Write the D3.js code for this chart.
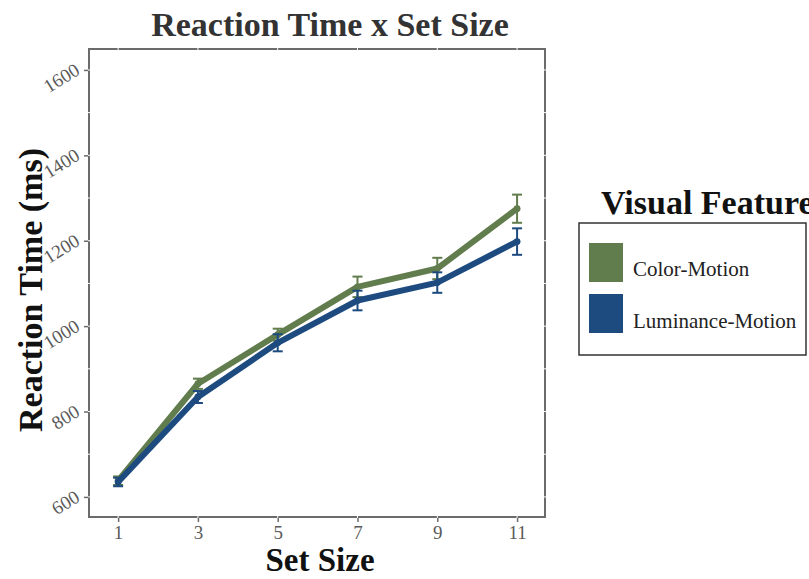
<!DOCTYPE html>
<html>
<head>
<meta charset="utf-8">
<script src="https://cdn.jsdelivr.net/npm/d3@7"></script>
<style>
  body { margin: 0; background: #fff; }
  text { font-family: "Liberation Serif", "Times New Roman", serif; }
</style>
</head>
<body>
<svg id="chart" width="809" height="579"></svg>
<script>
// data
var setSizes = [1, 3, 5, 7, 9, 11];
var colorMotion = [638, 865, 980, 1092, 1135, 1275];
var colorMotionErr = [10, 12, 14, 24, 25, 33];
var lumMotion = [635, 834, 961, 1060, 1102, 1198];
var lumMotionErr = [10, 14, 20, 23, 24, 31];
var yTicks = [600, 800, 1000, 1200, 1400, 1600];
var yMinor = [700, 900, 1100, 1300, 1500];
var seriesNames = ["Color-Motion", "Luminance-Motion"];
var seriesColors = ["#617c4d", "#1d4b80"];

var svg = d3.select("svg#chart");

var pLeft = 89, pRight = 545, pTop = 49, pBottom = 517;

var x = d3.scaleLinear().domain([0.27, 11.7]).range([pLeft, pRight]);
var y = d3.scaleLinear().domain([553, 1649]).range([pBottom, pTop]);

// title
svg.append("text")
  .attr("x", 330).attr("y", 36)
  .attr("text-anchor", "middle")
  .attr("font-size", 34).attr("font-weight", "bold")
  .attr("fill", "#333")
  .text("Reaction Time x Set Size");

// panel border
svg.append("rect")
  .attr("x", pLeft).attr("y", pTop)
  .attr("width", pRight - pLeft).attr("height", pBottom - pTop)
  .attr("fill", "none").attr("stroke", "#6b6b6b").attr("stroke-width", 2);

// white grid (only shows where it crosses the border)
var grid = svg.append("g").attr("stroke", "#fff").attr("stroke-width", 1);
grid.selectAll("line.gy")
  .data(yTicks.concat(yMinor)).enter().append("line")
  .attr("x1", pLeft - 1).attr("x2", pRight + 1)
  .attr("y1", function(d) { return y(d); }).attr("y2", function(d) { return y(d); });
grid.selectAll("line.gx")
  .data(setSizes).enter().append("line")
  .attr("y1", pTop - 1).attr("y2", pBottom + 1)
  .attr("x1", function(d) { return x(d); }).attr("x2", function(d) { return x(d); });

// axes
var xAxis = svg.append("g")
  .attr("transform", "translate(0," + (pBottom + 1) + ")")
  .call(d3.axisBottom(x).tickValues(setSizes).tickFormat(d3.format("d")).tickSize(4).tickPadding(4));
var yAxis = svg.append("g")
  .attr("transform", "translate(" + (pLeft - 1) + ",0)")
  .call(d3.axisLeft(y).tickValues(yTicks).tickFormat(d3.format("d")).tickSize(4).tickPadding(6));

[xAxis, yAxis].forEach(function(a) {
  a.select(".domain").remove();
  a.selectAll(".tick line").attr("stroke", "#6b6b6b").attr("stroke-width", 1.5);
  a.selectAll(".tick text")
    .attr("fill", "#5a5a5a").attr("font-size", 19)
    .attr("font-family", "Liberation Serif, serif");
});
xAxis.selectAll(".tick text").attr("dy", "0.71em");
yAxis.selectAll(".tick text")
  .attr("x", 0).attr("dy", 0)
  .attr("text-anchor", "end")
  .attr("transform", "translate(-7,3) rotate(-32)");

// axis titles
svg.append("text")
  .attr("x", 320).attr("y", 571)
  .attr("text-anchor", "middle")
  .attr("font-size", 33).attr("font-weight", "bold").attr("fill", "#111")
  .text("Set Size");
svg.append("text")
  .attr("transform", "translate(42,290) rotate(-90)")
  .attr("text-anchor", "middle")
  .attr("font-size", 34).attr("font-weight", "bold").attr("fill", "#111")
  .text("Reaction Time (ms)");

// series
var series = [
  { name: seriesNames[0], color: seriesColors[0], values: colorMotion, err: colorMotionErr },
  { name: seriesNames[1], color: seriesColors[1], values: lumMotion, err: lumMotionErr }
];

var line = d3.line()
  .x(function(d) { return x(d.x); })
  .y(function(d) { return y(d.y); });

series.forEach(function(s) {
  var pts = setSizes.map(function(v, i) { return { x: v, y: s.values[i], e: s.err[i] }; });
  var g = svg.append("g");
  g.append("path")
    .datum(pts)
    .attr("d", line)
    .attr("fill", "none")
    .attr("stroke", s.color)
    .attr("stroke-width", 6)
    .attr("stroke-linejoin", "round")
    .attr("stroke-linecap", "round");
  var eb = g.selectAll("g.err").data(pts).enter().append("g")
    .attr("stroke", s.color).attr("stroke-width", 2);
  eb.append("line")
    .attr("x1", function(d) { return x(d.x); }).attr("x2", function(d) { return x(d.x); })
    .attr("y1", function(d) { return y(d.y - d.e); }).attr("y2", function(d) { return y(d.y + d.e); });
  eb.append("line")
    .attr("x1", function(d) { return x(d.x) - 5; }).attr("x2", function(d) { return x(d.x) + 5; })
    .attr("y1", function(d) { return y(d.y + d.e); }).attr("y2", function(d) { return y(d.y + d.e); });
  eb.append("line")
    .attr("x1", function(d) { return x(d.x) - 5; }).attr("x2", function(d) { return x(d.x) + 5; })
    .attr("y1", function(d) { return y(d.y - d.e); }).attr("y2", function(d) { return y(d.y - d.e); });
  g.selectAll("circle").data(pts).enter().append("circle")
    .attr("cx", function(d) { return x(d.x); })
    .attr("cy", function(d) { return y(d.y); })
    .attr("r", 3.4)
    .attr("fill", s.color);
});

// legend
var legend = svg.append("g");
legend.append("text")
  .attr("x", 601).attr("y", 214)
  .attr("font-size", 34).attr("font-weight", "bold").attr("fill", "#111")
  .text("Visual Feature");
legend.append("rect")
  .attr("x", 579).attr("y", 223).attr("width", 227).attr("height", 132)
  .attr("fill", "none").attr("stroke", "#333").attr("stroke-width", 1.5);
series.forEach(function(s, i) {
  legend.append("rect")
    .attr("x", 589).attr("y", 243 + i * 51)
    .attr("width", 34).attr("height", 39)
    .attr("fill", s.color);
  legend.append("text")
    .attr("x", 633).attr("y", 276 + i * 52)
    .attr("font-size", 21).attr("fill", "#222")
    .text(s.name);
});
</script>
</body>
</html>
